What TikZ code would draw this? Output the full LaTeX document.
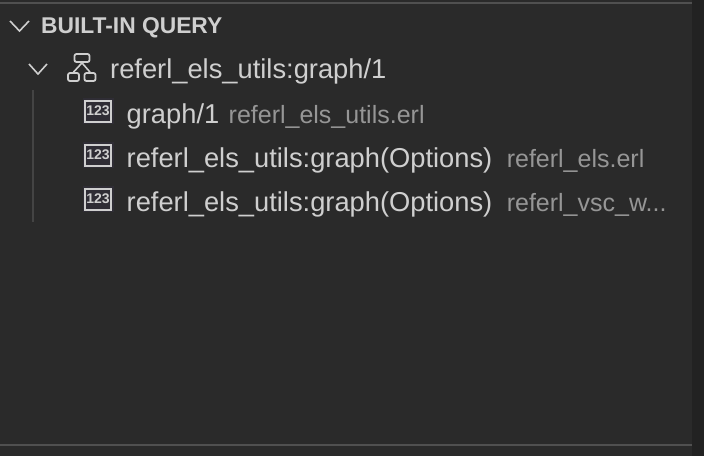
\documentclass[tikz,border=0pt]{standalone}
\usepackage{fontspec}
\setmainfont{Liberation Sans}
\usetikzlibrary{positioning}
\definecolor{mypanel}{HTML}{2A2A2A}
\definecolor{mystrip}{HTML}{222222}
\definecolor{myrule}{HTML}{505050}
\definecolor{myguide}{HTML}{444444}
\definecolor{mytext}{HTML}{CFCFCF}
\definecolor{mydim}{HTML}{969696}
\definecolor{myicon}{HTML}{2F2D35}
\def\cutname{referl\_vsc\_w...}
\tikzset{
	label main/.style={anchor=base west,inner sep=0,text=mytext,font=\fontsize{27.3}{30}\selectfont},
	label file/.style={anchor=base west,inner sep=0,text=mydim,font=\fontsize{25}{28}\selectfont},
	label head/.style={anchor=base west,inner sep=0,text=mytext,font=\fontsize{22.8}{26}\selectfont\bfseries},
	chevron/.style={draw=mytext,line width=1.6,line join=miter},
	num box/.style={draw=mytext,line width=2,fill=myicon,minimum width=26,minimum height=21,inner sep=0,
	  preaction={draw=myicon,line width=5},text=mytext,font=\fontsize{14}{14}\selectfont\bfseries},
	tree box/.style={draw=mytext,line width=1.8,rounded corners=2,inner sep=0},
	connect/.style={draw=mytext,line width=1.6}
}

\begin{document}
\begin{tikzpicture}[x=1pt,y=-1pt]
  \useasboundingbox (0,0) rectangle (704,456);
  % PANEL
  \fill[mypanel] (0,0) rectangle (704,456);
  \fill[mystrip] (692,0) rectangle (704,456);
  \fill[myrule] (0,2) rectangle (692,4);
  \fill[myrule] (0,444) rectangle (692,446);
  \draw[myguide,line width=1.5] (33,90) -- (33,222);

  % HEADER
  \draw[chevron] (10,21) -- (19.5,31) -- (29,21);
  \node[label head] (head) at (41,33) {BUILT-IN QUERY};

  % QUERY ROW
  \draw[chevron] (29,64) -- (38,74) -- (47,64);
  \node[tree box,minimum width=15,minimum height=8] (top) at (82,58) {};
  \node[tree box,minimum width=11,minimum height=8] (left) at (73.5,77) {};
  \node[tree box,minimum width=11,minimum height=8] (right) at (90,77) {};
  \draw[connect] (top.south) -- (left.north);
  \draw[connect] (top.south) -- (right.north);
  \node[label main] (query) at (110,78) {referl\_els\_utils:graph/1};

  % RESULT ROWS
  \foreach \i/\y/\gap/\name/\file in {1/122/9/graph\slash 1/referl\_els\_utils.erl,
      2/166/14/referl\_els\_utils:graph(Options)/referl\_els.erl,
      3/210/14/referl\_els\_utils:graph(Options)/\cutname}{
    \node[num box] (box-\i) at (98,\y-11) {123};
    \node[label main] (name-\i) at (126.5,\y+1) {\name};
    \node[label file,right=\gap of name-\i.base east,anchor=base west] (file-\i) {\file};
  }
\end{tikzpicture}
\end{document}
